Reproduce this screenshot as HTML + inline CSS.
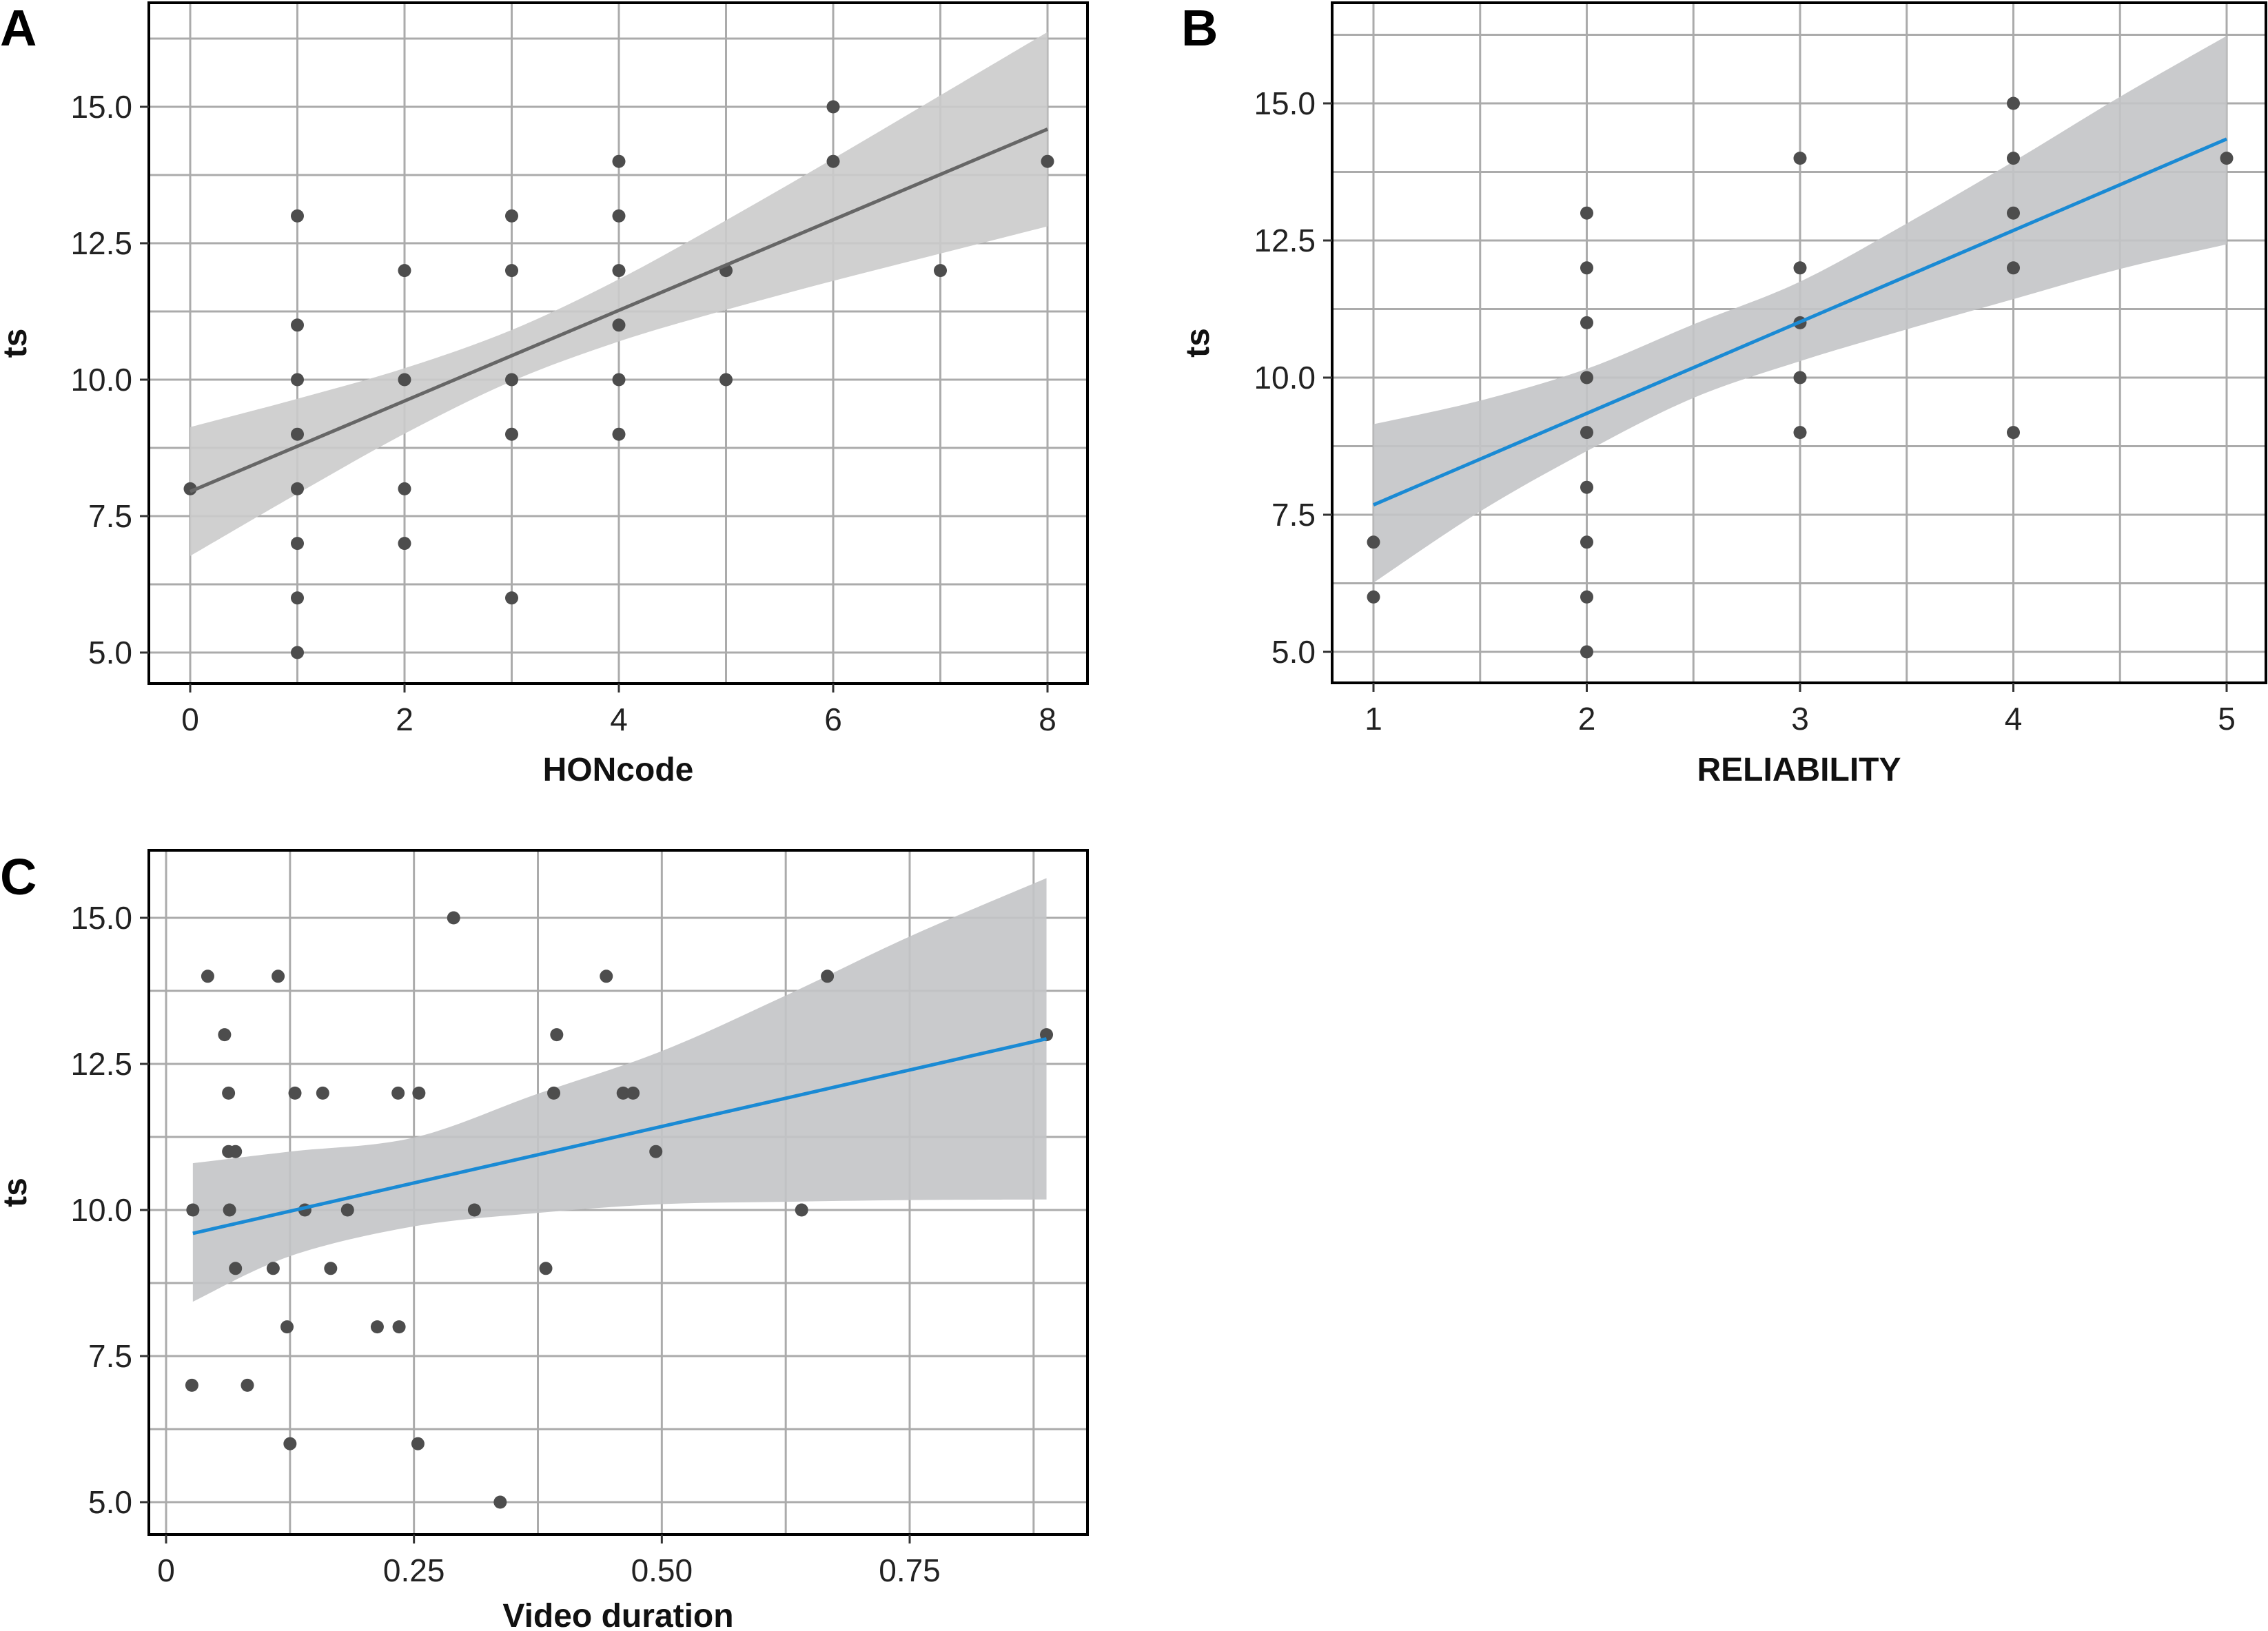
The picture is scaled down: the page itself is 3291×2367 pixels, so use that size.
<!DOCTYPE html>
<html><head><meta charset="utf-8"><style>
html,body{margin:0;padding:0;background:#fff;}
svg{display:block;font-family:"Liberation Sans",sans-serif;}
</style></head><body>
<svg id="fig" width="3291" height="2367" viewBox="0 0 3291 2367" xmlns="http://www.w3.org/2000/svg"></svg>
<script>
// ---- Panel A data ----
const aX = [0,1,1,1,1,1,1,1,1,2,2,2,2,3,3,3,3,3,4,4,4,4,4,4,5,5,6,6,7,8];
const aY = [8,13,11,10,9,8,7,6,5,12,10,8,7,13,12,10,9,6,14,13,12,11,10,9,12,10,15,14,12,14];
const aFitX = [0,8];
const aFitY = [7.95,14.59];
const aBandX = [0,1,2,3,4,5,6,7,8];
const aBandLo = [6.77,7.91,9.01,9.97,10.70,11.28,11.81,12.31,12.81];
const aBandHi = [9.13,9.65,10.21,10.91,11.84,12.92,14.05,15.21,16.37];
const aXTicks = [0,2,4,6,8];
const aXTickLabels = ["0","2","4","6","8"];
// ---- Panel B data ----
const bX = [1,1,2,2,2,2,2,2,2,2,2,3,3,3,3,3,4,4,4,4,4,5];
const bY = [7,6,13,12,11,10,9,8,7,6,5,14,12,11,10,9,15,14,13,12,9,14];
const bFitX = [1,5];
const bFitY = [7.68,14.35];
const bBandX = [1,1.5,2,2.5,3,3.5,4,4.5,5];
const bBandLo = [6.26,7.56,8.66,9.63,10.30,10.88,11.43,11.98,12.43];
const bBandHi = [9.15,9.58,10.16,10.97,11.75,12.81,13.94,15.12,16.23];
const bXTicks = [1,2,3,4,5];
const bXTickLabels = ["1","2","3","4","5"];
// ---- Panel C data ----
const cX = [0.027,0.026,0.042,0.059,0.063,0.063,0.070,0.064,0.070,0.082,0.108,0.113,0.122,0.125,0.130,0.140,0.158,0.166,0.183,0.213,0.234,0.235,0.255,0.254,0.290,0.311,0.337,0.383,0.391,0.394,0.444,0.461,0.471,0.494,0.641,0.667,0.888];
const cY = [10,7,14,13,12,11,11,10,9,7,9,14,8,6,12,10,12,9,10,8,12,8,12,6,15,10,5,9,12,13,14,12,12,11,10,14,13];
const cFitX = [0.027,0.888];
const cFitY = [9.60,12.93];
const cBandX = [0.027,0.125,0.25,0.375,0.5,0.625,0.75,0.888];
const cBandLo = [8.43,9.21,9.72,9.95,10.10,10.14,10.17,10.18];
const cBandHi = [10.80,11.00,11.24,11.99,12.72,13.67,14.68,15.68];
const cXTicks = [0,0.25,0.5,0.75];
const cXTickLabels = ["0","0.25","0.50","0.75"];
// shared y ticks
const yTicks = [5,7.5,10,12.5,15];
const yTickLabels = ["5.0","7.5","10.0","12.5","15.0"];

const NS="http://www.w3.org/2000/svg";
const svg=document.getElementById('fig');
function mk(tag,attrs,parent){const e=document.createElementNS(NS,tag);for(const k in attrs)e.setAttribute(k,attrs[k]);(parent||svg).appendChild(e);return e;}

function smooth(pts,start){
  let d=(start?'M':'L')+pts[0][0]+','+pts[0][1];
  for(let i=0;i<pts.length-1;i++){
    const p0=pts[Math.max(i-1,0)],p1=pts[i],p2=pts[i+1],p3=pts[Math.min(i+2,pts.length-1)];
    const c1x=p1[0]+(p2[0]-p0[0])/6,c1y=p1[1]+(p2[1]-p0[1])/6;
    const c2x=p2[0]-(p3[0]-p1[0])/6,c2y=p2[1]-(p3[1]-p1[1])/6;
    d+='C'+c1x+','+c1y+' '+c2x+','+c2y+' '+p2[0]+','+p2[1];
  }
  return d;
}

function panel(cfg){
  const g=mk('g',{});
  
  
  const L=cfg.left,R=cfg.right,T=cfg.top,B=cfg.bottom;
  const sx=v=>cfg.x0px+(v-cfg.x0)*(cfg.x1px-cfg.x0px)/(cfg.x1-cfg.x0);
  const sy=v=>cfg.y0px+(v-5)*(cfg.y15px-cfg.y0px)/10;
  const grid=mk('g',{stroke:'#ababab','stroke-width':3},g);
  
  
  for(let v=5;v<=17.5;v+=1.25){const y=sy(v);if(y<T||y>B)continue;mk('line',{x1:L,x2:R,y1:y,y2:y},grid);}
  for(let i=-4;i<60;i++){const v=cfg.x0+i*cfg.gridStep;const x=sx(v);if(x<L||x>R)continue;mk('line',{x1:x,x2:x,y1:T,y2:B},grid);}
  const hi=cfg.bandX.map((v,i)=>[sx(v),sy(cfg.bandHi[i])]);
  const lo=cfg.bandX.map((v,i)=>[sx(v),sy(cfg.bandLo[i])]).reverse();
  const band=mk('path',{d:smooth(hi,true)+smooth(lo,false)+'Z',fill:cfg.bandFill,'fill-opacity':0.9},g);
  
  
  cfg.px.forEach((v,i)=>{
    const c=mk('circle',{cx:sx(v),cy:sy(cfg.py[i]),r:9.5,fill:'#4d4d4d'},g);
    
    
  });
  const ln=mk('line',{x1:sx(cfg.fitX[0]),y1:sy(cfg.fitY[0]),x2:sx(cfg.fitX[1]),y2:sy(cfg.fitY[1]),stroke:cfg.lineColor,'stroke-width':5},g);
  
  
  const box=mk('rect',{x:L,y:T,width:R-L,height:B-T,fill:'none',stroke:'#000','stroke-width':4},g);
  
  
  yTicks.forEach((v,i)=>{
    const y=sy(v);
    mk('line',{x1:L-13,x2:L,y1:y,y2:y,stroke:'#333','stroke-width':3},g);
    const t=mk('text',{x:L-24,y:y+16,'text-anchor':'end','font-size':46,fill:'#222'},g);
    t.textContent=yTickLabels[i];
    
    
  });
  cfg.xTicks.forEach((v,i)=>{
    const x=sx(v);
    mk('line',{x1:x,x2:x,y1:B,y2:B+13,stroke:'#333','stroke-width':3},g);
    const t=mk('text',{x:x,y:B+68,'text-anchor':'middle','font-size':46,fill:'#222'},g);
    t.textContent=cfg.xTickLabels[i];
    
    
  });
  const xt=mk('text',{x:(L+R)/2,y:cfg.xTitleY,'text-anchor':'middle','font-size':48,'font-weight':'bold',fill:'#111'},g);
  xt.textContent=cfg.xTitle;
  
  
  const yy=(T+B)/2;
  const yt=mk('text',{x:cfg.yTitleX,y:yy,'text-anchor':'middle','font-size':48,'font-weight':'bold',fill:'#111',transform:'rotate(-90 '+cfg.yTitleX+' '+yy+')'},g);
  yt.textContent='ts';
  
  
  const lt=mk('text',{x:cfg.letterX,y:cfg.letterY,'font-size':74,'font-weight':'bold',fill:'#000'},g);
  lt.textContent=cfg.letter;
  
  
}

panel({name:'panel-a-honcode',left:216,right:1578,top:4,bottom:992,x0:0,x1:8,x0px:276,x1px:1520,gridStep:1,
  y0px:947,y15px:155,px:aX,py:aY,fitX:aFitX,fitY:aFitY,bandX:aBandX,bandLo:aBandLo,bandHi:aBandHi,
  bandFill:'#cbcbcb',lineColor:'#666666',xTicks:aXTicks,xTickLabels:aXTickLabels,xTitle:'HONcode',xTitleY:1133,
  yTitleX:38,letter:'A',letterX:0,letterY:66});
panel({name:'panel-b-reliability',left:1933,right:3288,top:4,bottom:991,x0:1,x1:5,x0px:1993,x1px:3231,gridStep:0.5,
  y0px:946,y15px:150,px:bX,py:bY,fitX:bFitX,fitY:bFitY,bandX:bBandX,bandLo:bBandLo,bandHi:bBandHi,
  bandFill:'#c3c4c6',lineColor:'#1a8ad4',xTicks:bXTicks,xTickLabels:bXTickLabels,xTitle:'RELIABILITY',xTitleY:1133,
  yTitleX:1754,letter:'B',letterX:1714,letterY:66});
panel({name:'panel-c-video-duration',left:216,right:1578,top:1234,bottom:2227,x0:0,x1:0.75,x0px:241,x1px:1320,gridStep:0.125,
  y0px:2180,y15px:1332,px:cX,py:cY,fitX:cFitX,fitY:cFitY,bandX:cBandX,bandLo:cBandLo,bandHi:cBandHi,
  bandFill:'#c3c4c6',lineColor:'#1a8ad4',xTicks:cXTicks,xTickLabels:cXTickLabels,xTitle:'Video duration',xTitleY:2361,
  yTitleX:38,letter:'C',letterX:0,letterY:1298});
</script>
</body></html>
